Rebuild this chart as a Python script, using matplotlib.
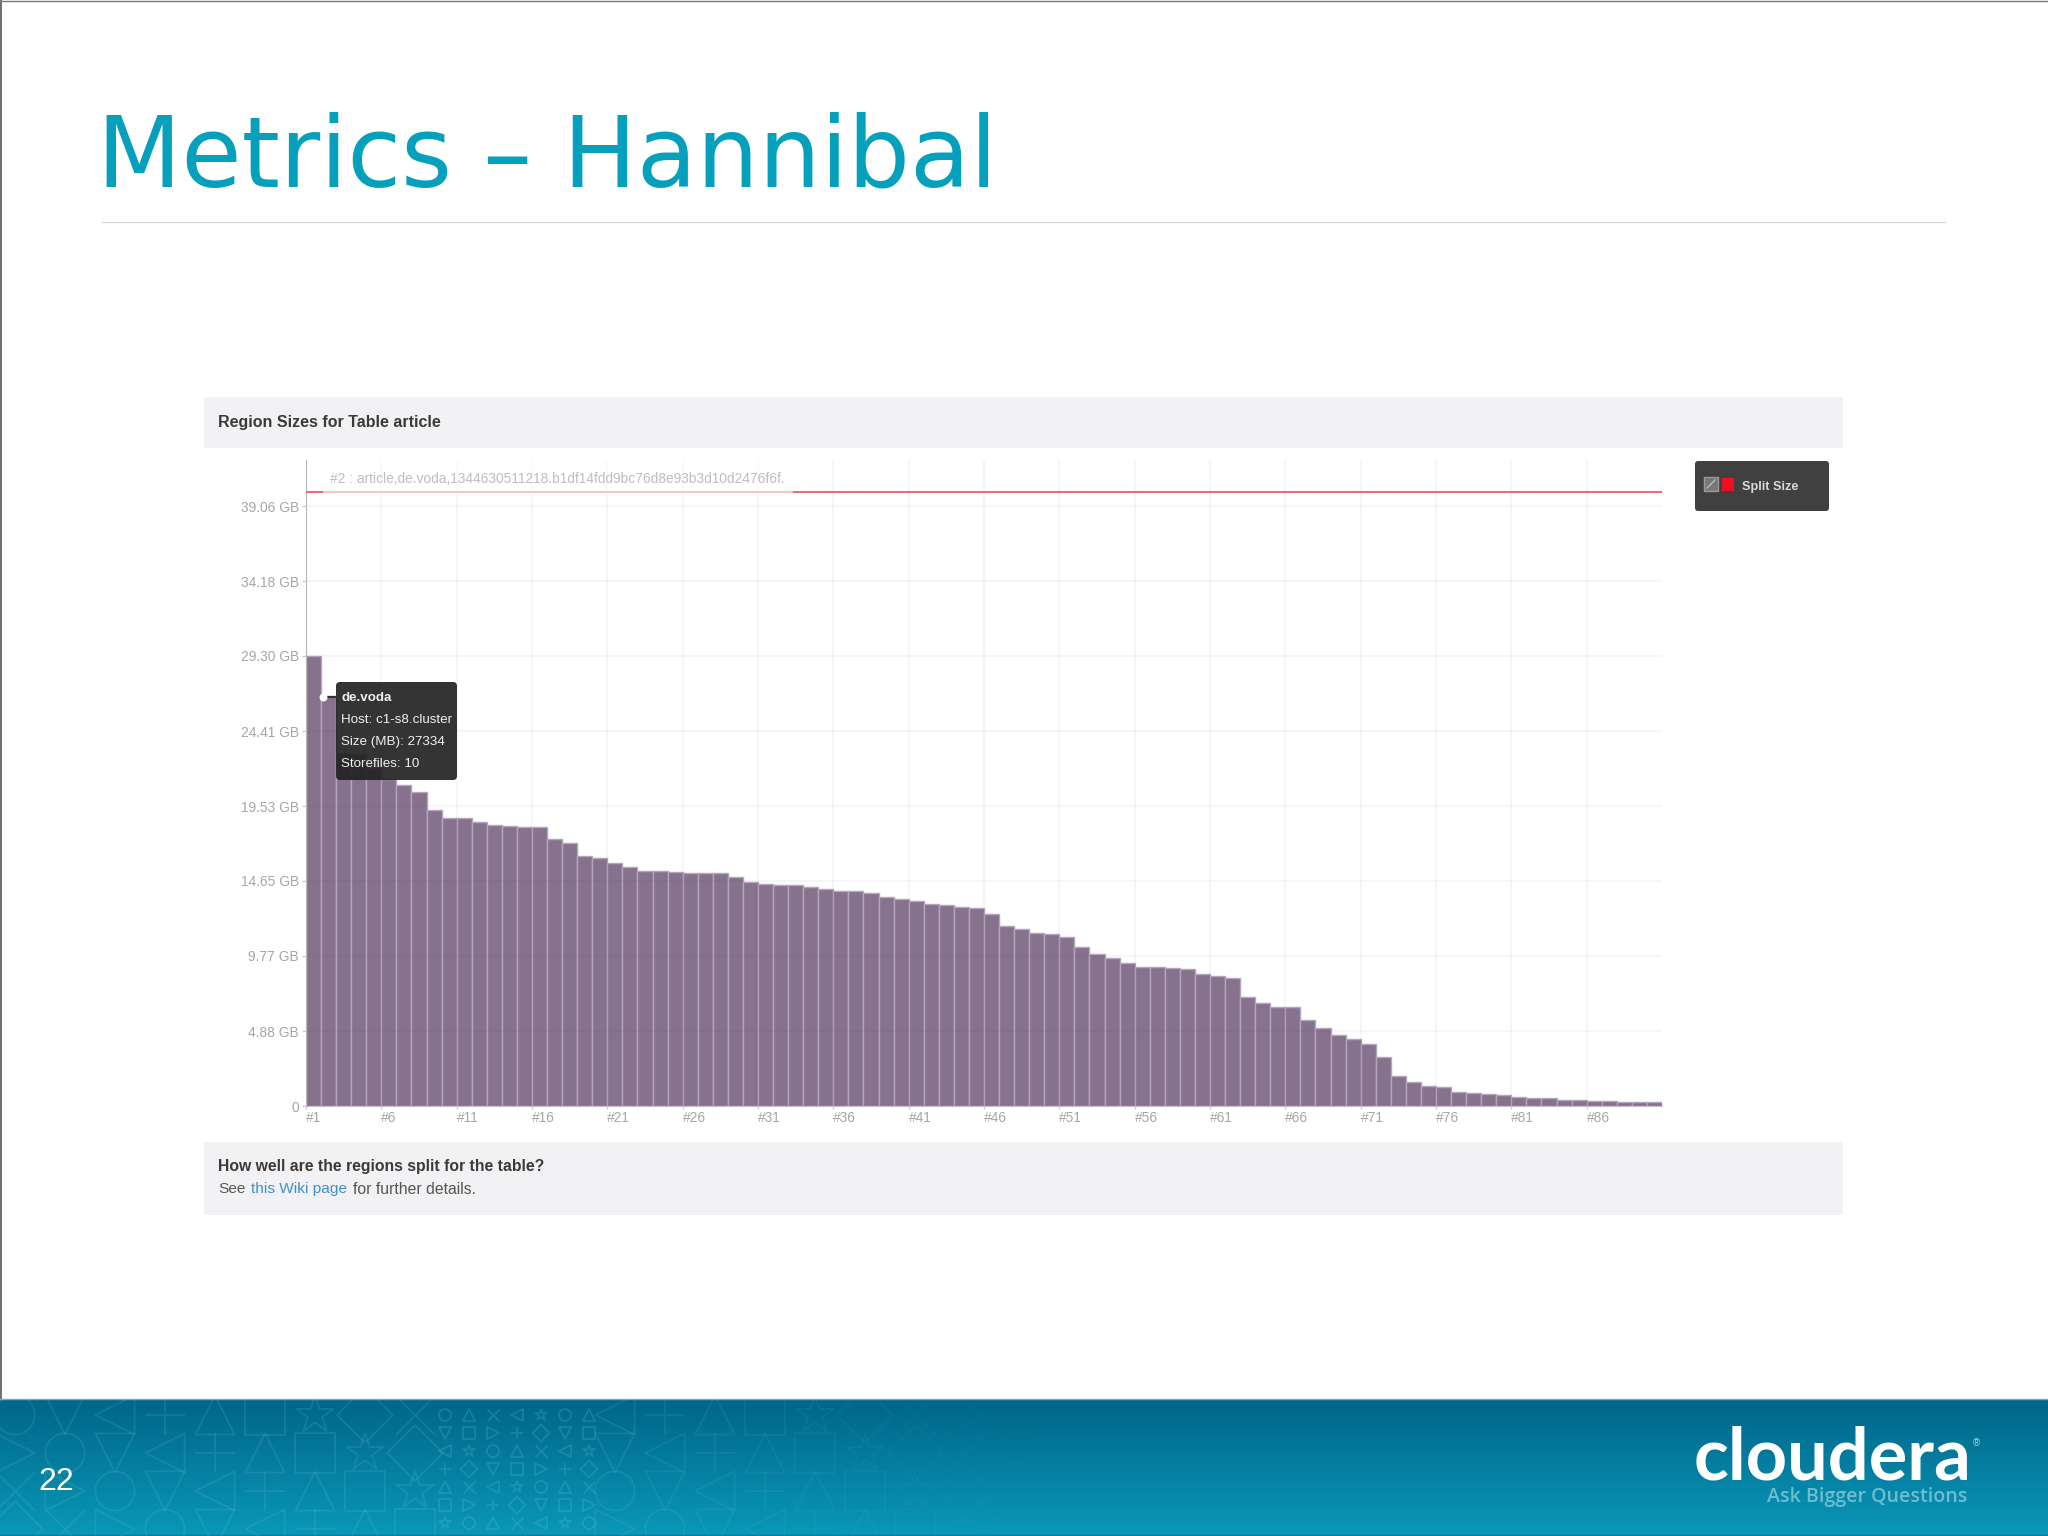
"""
Slide: Metrics - Hannibal, region sizes bar chart for the HBase table article.
"""

import matplotlib
matplotlib.use("Agg")
import matplotlib.pyplot as plt
import numpy as np
from matplotlib.patches import FancyBboxPatch, Rectangle

# Data
REGION_GB = [
    29.30, 26.69, 23.0, 22.9, 22.0, 21.3, 20.9, 20.45, 19.27, 18.77,
    18.77, 18.5, 18.3, 18.25, 18.15, 18.15, 17.4, 17.15, 16.28, 16.17,
    15.8, 15.55, 15.32, 15.28, 15.25, 15.17, 15.14, 15.14, 14.93, 14.58,
    14.45, 14.39, 14.39, 14.26, 14.15, 14.02, 14.0, 13.87, 13.61, 13.48,
    13.35, 13.13, 13.09, 12.93, 12.87, 12.5, 11.72, 11.55, 11.26, 11.2,
    11.03, 10.38, 9.88, 9.64, 9.33, 9.08, 9.06, 8.99, 8.92, 8.62,
    8.49, 8.36, 7.12, 6.73, 6.47, 6.45, 5.6, 5.08, 4.6, 4.34,
    4.04, 3.19, 1.93, 1.58, 1.32, 1.22, 0.89, 0.87, 0.78, 0.7,
    0.61, 0.54, 0.52, 0.41, 0.37, 0.35, 0.3, 0.28, 0.28, 0.26,
]
SPLIT_SIZE_GB = 40.0
Y_TICKS = [0, 4.88, 9.77, 14.65, 19.53, 24.41, 29.30, 34.18, 39.06]
Y_LABELS = ["0", "4.88 GB", "9.77 GB", "14.65 GB", "19.53 GB", "24.41 GB",
            "29.30 GB", "34.18 GB", "39.06 GB"]
X_TICKS = list(range(0, 90, 5))
X_LABELS = [f"#{i + 1}" for i in X_TICKS]
TOOLTIP_LINES = ["de.voda", "Host: c1-s8.cluster", "Size (MB): 27334", "Storefiles: 10"]
HINT = "#2 : article,de.voda,1344630511218.b1df14fdd9bc76d8e93b3d10d2476f6f."

# Configuration
W, H = 2048, 1536
AX_LEFT, AX_RIGHT, AX_TOP, AX_BOTTOM = 306, 1662, 460, 1106
FOOTER_TOP = 1399
Y_MAX = 42.06
TEAL = "#05a0bc"
SANS = "Liberation Sans"
SHAPES = ["o", "D", "^", "v", "x", "s", "<", ">", "*", "+"]


def pixel_axes(fig, zorder):
    """Full-figure axes with y going down, in picture pixels."""
    ax = fig.add_axes([0, 0, 1, 1], zorder=zorder)
    ax.set_xlim(0, W)
    ax.set_ylim(H, 0)
    ax.axis("off")
    ax.patch.set_alpha(0)
    return ax


def draw_texture(bg):
    """Faint symbol pattern on the left of the footer band."""
    edge = "#7fd4e6"
    clip = Rectangle((0, FOOTER_TOP), W, H - FOOTER_TOP, transform=bg.transData)

    def stamp(x, y, size, marker, alpha):
        face = edge if marker in ("x", "+") else "none"
        mark = bg.scatter([x], [y], s=size, marker=marker, facecolors=face, edgecolors=edge,
                          linewidths=1.3, alpha=alpha, zorder=2)
        mark.set_clip_path(clip)

    for i, x in enumerate(np.arange(15, 1060, 50)):
        if 438 < x < 590:
            continue
        alpha = 0.14 * min(1.0, (1060 - x) / 500)
        for j, y in enumerate(np.arange(1415, 1536, 38)):
            stamp(x, y, 800, SHAPES[(i * 3 + j * 7) % len(SHAPES)], alpha)
    for i, x in enumerate(np.arange(445, 590, 24)):
        for j, y in enumerate(np.arange(1415, 1530, 18)):
            stamp(x, y, 75, SHAPES[(i * 2 + j * 3) % len(SHAPES)], 0.18)


def draw_slide(bg):
    """Title, rule, panels and footer band."""
    bg.text(97, 187, "Metrics – Hannibal", family="DejaVu Sans",
            fontsize=70.5, color=TEAL, va="baseline", ha="left")
    bg.plot([102, 1945], [222, 222], color="#cfcfcf", lw=0.8)
    bg.plot([0.5, 0.5], [0, FOOTER_TOP], color="#555555", lw=1.2)
    bg.plot([0, W], [0.5, 0.5], color="#777777", lw=1)

    bg.add_patch(Rectangle((204, 397), 1639, 51, color="#f2f2f4", lw=0))
    bg.add_patch(Rectangle((204, 1142), 1639, 73, color="#f2f2f4", lw=0))
    bg.text(218, 423, "Region Sizes for Table article", family=SANS,
            weight="bold", fontsize=11.5, color="#3a3a3a", va="center")
    bg.text(218, 1167, "How well are the regions split for the table?",
            family=SANS, weight="bold", fontsize=11.3, color="#3a3a3a", va="center")
    bg.text(218, 1189, "See", family=SANS, fontsize=11.1, color="#555555", va="center")
    bg.text(251, 1189, "this Wiki page", family=SANS, fontsize=11.1,
            color="#3f8fc9", va="center")
    bg.text(353, 1189, "for further details.", family=SANS, fontsize=11.3,
            color="#555555", va="center")

    # footer gradient
    grad = np.linspace(0, 1, 64)[:, None]
    top = np.array([0x00, 0x66, 0x88]) / 255
    bottom = np.array([0x0a, 0x97, 0xb8]) / 255
    band = (top + (bottom - top) * grad)[:, None, :]
    bg.imshow(band, extent=(0, W, H, FOOTER_TOP), aspect="auto", zorder=1)
    bg.set_xlim(0, W)
    bg.set_ylim(H, 0)
    bg.plot([0, W], [FOOTER_TOP, FOOTER_TOP], color="#5fb3cc", lw=1, zorder=2)
    bg.plot([0, W], [1535, 1535], color="#2a6f80", lw=1, zorder=2)
    draw_texture(bg)

    bg.text(38, 1482, "22", family=SANS, fontsize=23, color="white",
            va="center", zorder=3)
    bg.text(1694, 1480, "cloudera", family="Lato", weight="bold", fontsize=52,
            color="white", va="baseline", zorder=3)
    bg.text(1976, 1443, "®", family=SANS, fontsize=7, color="#a8d8e6",
            va="center", ha="center", zorder=3)
    bg.text(1767, 1497, "Ask Bigger Questions", family="Open Sans", weight="semibold",
            fontsize=14.1, color="#6dbdd3", va="center", zorder=3)


def draw_chart(fig):
    """Bars, split-size line and axes."""
    ax = fig.add_axes([AX_LEFT / W, 1 - AX_BOTTOM / H,
                       (AX_RIGHT - AX_LEFT) / W, (AX_BOTTOM - AX_TOP) / H], zorder=2)
    ax.patch.set_alpha(0)
    x = np.arange(len(REGION_GB))
    ax.bar(x, REGION_GB, width=1.0, align="edge", color="#87728d",
           edgecolor="#b5a4bd", linewidth=1.0, zorder=2)
    ax.axhline(SPLIT_SIZE_GB, color="#ea6a6a", lw=1.4, zorder=4)

    ax.set_xlim(0, len(REGION_GB))
    ax.set_ylim(0, Y_MAX)
    ax.set_yticks(Y_TICKS, Y_LABELS, family=SANS, fontsize=9.9, color="#a6a6a6")
    ax.set_xticks(X_TICKS, X_LABELS, family=SANS, fontsize=9.9, color="#a6a6a6")
    for label in ax.get_xticklabels():
        label.set_ha("left")
    ax.grid(True, color="#5a3f78", alpha=0.05, lw=1.6, zorder=3)
    ax.set_axisbelow(False)
    ax.tick_params(axis="y", length=3, width=1, color="#cccccc", pad=2)
    ax.tick_params(axis="x", length=2, width=1, color="#cccccc", pad=1.5)
    for side in ("top", "right"):
        ax.spines[side].set_visible(False)
    ax.spines["left"].set_color("#bdbdbd")
    ax.spines["bottom"].set_color("#c9bdd0")
    return ax


def draw_overlays(fg):
    """Hint text, tooltip and legend box drawn on top of the chart."""
    fg.add_patch(Rectangle((323, 460), 470, 34, color="white", alpha=0.6, lw=0))
    fg.text(330, 479, HINT, family=SANS, fontsize=9.9, color="#bdbdbd", va="center")

    fg.add_patch(FancyBboxPatch((338, 684), 117, 94, boxstyle="round,pad=2,rounding_size=4",
                                facecolor="#222222", edgecolor="none", alpha=0.92))
    fg.plot([323, 336], [697, 697], color="#333333", lw=1.5)
    fg.scatter([323], [697], s=22, color="white", zorder=5)
    for i, (line, y) in enumerate(zip(TOOLTIP_LINES, [698, 720, 742, 764])):
        fg.text(341, y, line, family=SANS, fontsize=9.6, color="#f0f0f0", va="center",
                weight="bold" if i == 0 else "normal")

    fg.add_patch(FancyBboxPatch((1697, 463), 130, 46, boxstyle="round,pad=2,rounding_size=3",
                                facecolor="#404040", edgecolor="none"))
    fg.add_patch(Rectangle((1704, 477), 14, 14, facecolor="#777777",
                           edgecolor="#999999", lw=1))
    fg.plot([1707, 1715], [488, 480], color="#bbbbbb", lw=1)
    fg.add_patch(Rectangle((1722, 478), 12, 13, color="#ee1122", lw=0))
    fg.text(1742, 487, "Split Size", family=SANS, weight="bold", fontsize=9.2,
            color="#d8d8d8", va="center")


def main():
    fig = plt.figure(figsize=(W / 100, H / 100), dpi=100, facecolor="white")
    draw_slide(pixel_axes(fig, 1))
    draw_chart(fig)
    draw_overlays(pixel_axes(fig, 3))
    fig.savefig("out.png", dpi=100)
    plt.close(fig)


if __name__ == "__main__":
    main()
